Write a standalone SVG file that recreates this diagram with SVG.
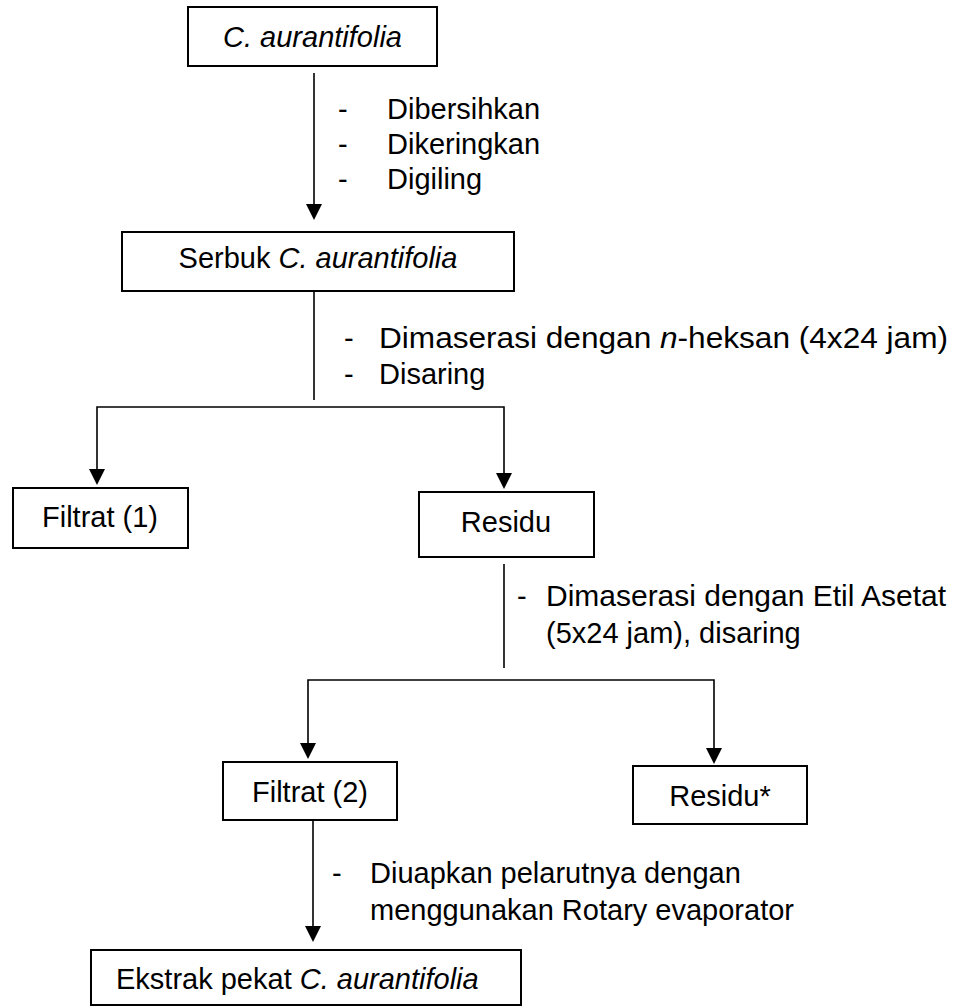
<svg xmlns="http://www.w3.org/2000/svg" width="961" height="1008" viewBox="0 0 961 1008">
<style>
.box{fill:#fff;stroke:#000;stroke-width:2}
.ln{fill:none;stroke:#000;stroke-width:1.6}
.ah{fill:#000}
text{font-family:"Liberation Sans",Arial,sans-serif;font-size:29px;fill:#000}
.c{text-anchor:middle}
.i{font-style:italic}
</style>
<rect width="961" height="1008" fill="#fff"/>
<g id="connectors">
<line class="ln" x1="314" y1="73" x2="314" y2="206"/>
<line class="ln" x1="314" y1="291" x2="314" y2="400"/>
<polyline class="ln" points="97,472 97,407 504,407 504,476"/>
<line class="ln" x1="504" y1="564" x2="504" y2="668"/>
<polyline class="ln" points="308,745 308,680 714,680 714,750"/>
<line class="ln" x1="313" y1="820" x2="313" y2="928"/>
<path class="ah" d="M306,204 L322,204 L314,220 Z"/>
<path class="ah" d="M89,469 L105,469 L97,485 Z"/>
<path class="ah" d="M496,473 L512,473 L504,489 Z"/>
<path class="ah" d="M300,743 L316,743 L308,759 Z"/>
<path class="ah" d="M706,748 L722,748 L714,764 Z"/>
<path class="ah" d="M305,926 L321,926 L313,942 Z"/>
</g>
<g id="labels">
<text x="338" y="119">-</text><text x="387" y="119">Dibersihkan</text>
<text x="338" y="154">-</text><text x="387" y="154">Dikeringkan</text>
<text x="338" y="189">-</text><text x="387" y="189">Digiling</text>
<text x="344" y="348">-</text><text x="379" y="348" textLength="569" lengthAdjust="spacingAndGlyphs">Dimaserasi dengan <tspan class="i">n</tspan>-heksan (4x24 jam)</text>
<text x="344" y="384">-</text><text x="379" y="384">Disaring</text>
<text x="517" y="606">-</text><text x="546" y="606" textLength="400" lengthAdjust="spacingAndGlyphs">Dimaserasi dengan Etil Asetat</text>
<text x="546" y="643">(5x24 jam), disaring</text>
<text x="332" y="883">-</text><text x="370" y="883">Diuapkan pelarutnya dengan</text>
<text x="370" y="920">menggunakan Rotary evaporator</text>
</g>
<g id="n1"><rect class="box" x="188" y="7" width="249" height="59"/><text class="c i" x="312.5" y="47">C. aurantifolia</text></g>
<g id="n2"><rect class="box" x="122" y="232" width="392" height="59"/><text class="c" x="318" y="268">Serbuk <tspan class="i">C. aurantifolia</tspan></text></g>
<g id="n3"><rect class="box" x="13" y="488" width="175" height="60"/><text class="c" x="100" y="527">Filtrat (1)</text></g>
<g id="n4"><rect class="box" x="419" y="492" width="175" height="65"/><text class="c" x="506" y="532">Residu</text></g>
<g id="n5"><rect class="box" x="223" y="762" width="174" height="58"/><text class="c" x="310" y="802">Filtrat (2)</text></g>
<g id="n6"><rect class="box" x="633" y="766" width="174" height="58"/><text class="c" x="720" y="806">Residu*</text></g>
<g id="n7"><rect class="box" x="91" y="950" width="430" height="55"/><text x="116" y="989">Ekstrak pekat <tspan class="i">C. aurantifolia</tspan></text></g>
</svg>
